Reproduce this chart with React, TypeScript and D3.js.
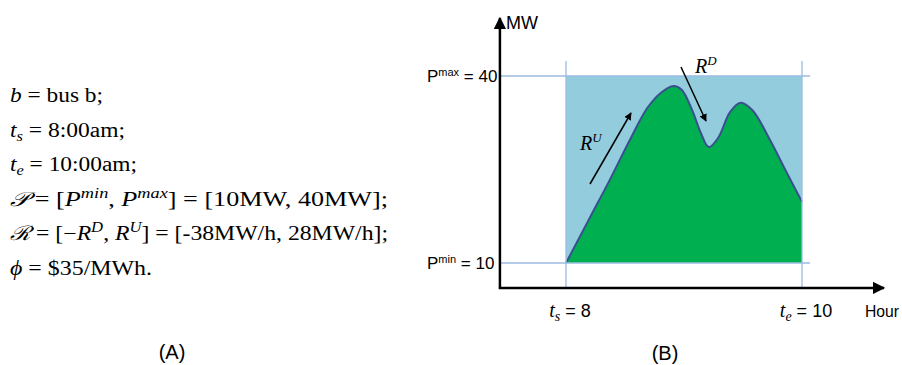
import React from 'react';
import * as d3 from 'd3';

// output curve of the unit
const hours = [8.0, 8.2, 8.37, 8.54, 8.69, 8.81, 8.91, 8.98, 9.07, 9.14, 9.21, 9.29, 9.39, 9.48, 9.58, 9.73, 9.86, 10.0];
const output = [10.0, 17.2, 23.3, 29.7, 34.9, 37.4, 38.4, 37.8, 34.5, 31.0, 28.6, 30.1, 34.2, 35.7, 34.5, 29.7, 24.9, 19.8];

const pLimits = [10, 40];
const pLabels = ['min', 'max'];
const tLimits = [8, 10];
const tSubs = ['s', 'e'];

const serif = '"Liberation Serif", "DejaVu Serif", serif';
const sans = '"Liberation Sans Narrow", "Liberation Sans", Arial, sans-serif';
const arial = '"Liberation Sans", Arial, sans-serif';

const App = () => {
  const width = 902;
  const height = 365;

  const x = d3.scaleLinear().domain([8, 10]).range([566, 802]);
  const y = d3.scaleLinear().domain([10, 40]).range([263, 76]);

  const xAxisY = y(6);
  const yAxisX = x(7.44);

  const pts: [number, number][] = hours.map((h, i) => [h, output[i]]);
  const area = d3.area<[number, number]>()
    .x(d => x(d[0]))
    .y0(y(pLimits[0]))
    .y1(d => y(d[1]))
    .curve(d3.curveCatmullRom.alpha(0.5));
  const line = d3.line<[number, number]>()
    .x(d => x(d[0]))
    .y(d => y(d[1]))
    .curve(d3.curveCatmullRom.alpha(0.5));

  const grid = '#9dbbe2';
  const lineGap = 34.5;
  const top = 102;
  // widths of the typeset lines in panel (A)
  const widths = [93, 115, 127, 378, 378, 142];
  const tl = (i: number) => ({ textLength: widths[i], lengthAdjust: 'spacingAndGlyphs' as const });

  return (
    <svg width={width} height={height} style={{ position: 'absolute', left: 0, top: 0 }}>
      <defs>
        <marker id="ah" viewBox="0 0 10 10" refX="9" refY="5" markerWidth="5" markerHeight="5" orient="auto">
          <path d="M0,0 L10,5 L0,10 z" fill="#000" />
        </marker>
      </defs>
      <rect width={width} height={height} fill="#fff" />

      {/* (A) parameter list */}
      <g fontFamily={serif} fontSize={20} fill="#000">
        <text x={10} y={top} {...tl(0)}>
          <tspan fontStyle="italic">b</tspan> = bus b;
        </text>
        <text x={10} y={top + lineGap} {...tl(1)}>
          <tspan fontStyle="italic">t</tspan>
          <tspan fontStyle="italic" fontSize={14} dy={4}>s</tspan>
          <tspan dy={-4}> = 8:00am;</tspan>
        </text>
        <text x={10} y={top + lineGap * 2} {...tl(2)}>
          <tspan fontStyle="italic">t</tspan>
          <tspan fontStyle="italic" fontSize={14} dy={4}>e</tspan>
          <tspan dy={-4}> = 10:00am;</tspan>
        </text>
        <text x={10} y={top + lineGap * 3} {...tl(3)}>
          <tspan fontStyle="italic">𝒫</tspan> = [<tspan fontStyle="italic">P</tspan>
          <tspan fontStyle="italic" fontSize={14} dy={-8}>min</tspan>
          <tspan dy={8}>, </tspan><tspan fontStyle="italic">P</tspan>
          <tspan fontStyle="italic" fontSize={14} dy={-8}>max</tspan>
          <tspan dy={8}>] = [10MW, 40MW];</tspan>
        </text>
        <text x={10} y={top + lineGap * 4} {...tl(4)}>
          <tspan fontStyle="italic">ℛ</tspan> = [−<tspan fontStyle="italic">R</tspan>
          <tspan fontStyle="italic" fontSize={14} dy={-8}>D</tspan>
          <tspan dy={8}>, </tspan><tspan fontStyle="italic">R</tspan>
          <tspan fontStyle="italic" fontSize={14} dy={-8}>U</tspan>
          <tspan dy={8}>] = [-38MW/h, 28MW/h];</tspan>
        </text>
        <text x={10} y={top + lineGap * 5} {...tl(5)}>
          <tspan fontStyle="italic">ϕ</tspan> = $35/MWh.
        </text>
      </g>
      <text x={172} y={359} textAnchor="middle" fontFamily={arial} fontSize={20}>(A)</text>

      {/* (B) feasible band */}
      <rect x={x(8)} y={y(40)} width={x(10) - x(8)} height={y(10) - y(40)} fill="#93cddd" />
      <path d={area(pts) || ''} fill="#00b050" />
      <path d={line(pts) || ''} fill="none" stroke="#3a4f8f" strokeWidth={2} />

      {pLimits.map(p => (
        <line key={p} x1={yAxisX} x2={x(10) + 8} y1={y(p)} y2={y(p)} stroke={grid} strokeWidth={1.3} />
      ))}
      {tLimits.map(t => (
        <line key={t} x1={x(t)} x2={x(t)} y1={y(42.4)} y2={xAxisY} stroke={grid} strokeWidth={1.3} />
      ))}

      {/* axes */}
      <line x1={yAxisX} x2={yAxisX} y1={xAxisY + 1} y2={18} stroke="#000" strokeWidth={2.5} markerEnd="url(#ah)" />
      <line x1={yAxisX - 1} x2={884} y1={xAxisY} y2={xAxisY} stroke="#000" strokeWidth={2.5} markerEnd="url(#ah)" />

      <g fontFamily={sans} fontSize={17} fill="#000">
        <text x={506} y={29} fontSize={18}>MW</text>
        {pLimits.map((p, i) => (
          <text key={p} x={427} y={y(p) + 6}>
            P<tspan fontSize={11} dy={-6}>{pLabels[i]}</tspan>
            <tspan dy={6}> = {p}</tspan>
          </text>
        ))}
        {tLimits.map((t, i) => (
          <text key={t} x={x(t) + 4} y={317} textAnchor="middle" fontSize={18}>
            <tspan fontFamily={serif} fontStyle="italic" fontSize={20}>t</tspan>
            <tspan fontFamily={serif} fontStyle="italic" fontSize={14} dy={4}>{tSubs[i]}</tspan>
            <tspan dy={-4}> = {t}</tspan>
          </text>
        ))}
        <text x={865} y={317} fontSize={17} textLength={34} lengthAdjust="spacingAndGlyphs">Hour</text>
      </g>

      {/* ramp arrows */}
      <line x1={590} y1={184} x2={631} y2={113} stroke="#000" strokeWidth={1.5} markerEnd="url(#ah)" />
      <line x1={681} y1={67} x2={706} y2={121} stroke="#000" strokeWidth={1.5} markerEnd="url(#ah)" />
      <text x={580} y={150} fontFamily={serif} fontStyle="italic" fontSize={20}>
        R<tspan fontSize={13} dy={-8}>U</tspan>
      </text>
      <text x={695} y={73} fontFamily={serif} fontStyle="italic" fontSize={20}>
        R<tspan fontSize={13} dy={-8}>D</tspan>
      </text>

      <text x={665} y={360} textAnchor="middle" fontFamily={arial} fontSize={20}>(B)</text>
    </svg>
  );
};

export default App;
